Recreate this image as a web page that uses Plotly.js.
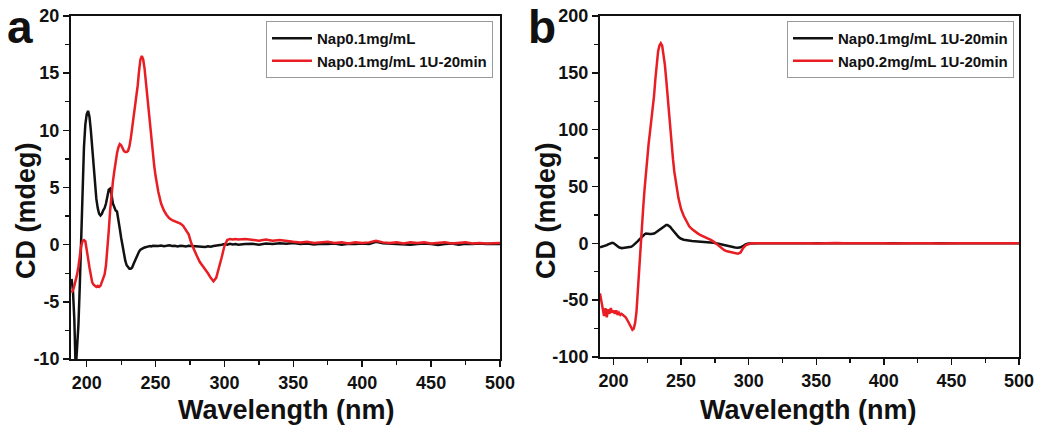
<!DOCTYPE html>
<html>
<head>
<meta charset="utf-8">
<script src="https://cdn.plot.ly/plotly-3.0.1.min.js"></script>
<style>html,body{margin:0;padding:0;background:#fff;}#chart{width:1050px;height:430px;}</style>
</head>
<body>
<div id="chart"></div>
<script>
// ---------- Panel a data ----------
const wlA = [189,190,191,192,193,194,195,196,197,198,199,200,201,202,203,204,205,206,207,208,209,210,211,212,213,214,215,216,217,218,219,220,221,222,223,224,225,226,227,228,229,230,231,232,233,234,235,236,237,238,239,240,241,242,243,244,245,246,247,248,249,250,
  252,254,256,258,260,262,264,266,268,270,272,274,276,278,280,282,284,286,288,290,292,294,296,298,300,302,304,306,308,310,
  315,320,325,330,335,340,345,350,355,360,365,370,375,380,385,390,395,400,405,410,415,420,425,430,435,440,445,450,455,460,465,470,475,480,485,490,495,500];
const cdA_nap01 = [-3.0,-4.0,-6.5,-11.0,-9.0,-7.0,-3.5,0.5,5.0,8.5,10.5,11.4,11.7,11.2,10.0,8.3,6.6,5.2,4.0,3.2,2.7,2.55,2.7,3.0,3.2,3.6,4.2,4.8,4.9,4.4,3.6,3.2,3.0,2.9,2.3,1.4,0.6,-0.2,-0.9,-1.4,-1.8,-2.0,-2.1,-2.1,-2.0,-1.7,-1.4,-1.1,-0.8,-0.6,-0.45,-0.35,-0.3,-0.25,-0.2,-0.18,-0.15,-0.12,-0.15,-0.1,-0.12,-0.1,
  -0.12,-0.08,-0.13,-0.1,-0.05,-0.12,-0.1,-0.15,-0.1,-0.12,-0.15,-0.1,-0.12,-0.15,-0.12,-0.18,-0.15,-0.2,-0.15,-0.18,-0.12,-0.1,-0.05,0.0,0.05,0.0,0.08,0.02,0.05,0.0,
  0.05,0.08,0.0,0.1,0.05,0.12,0.08,0.15,0.05,0.1,0.02,0.08,0.05,0.1,0.0,0.08,0.05,0.1,0.05,0.25,0.12,0.1,0.05,0.08,0.0,0.05,0.1,0.05,-0.02,0.05,0.1,0.0,0.08,0.05,0.1,0.05,0.08,0.05];
const cdA_nap01_1U = [-4.2,-4.0,-3.6,-3.2,-2.6,-1.9,-1.0,-0.1,0.3,0.4,0.3,-0.3,-1.2,-2.0,-2.8,-3.3,-3.5,-3.6,-3.7,-3.6,-3.7,-3.6,-3.3,-2.9,-2.6,-1.8,-0.6,1.2,3.0,4.4,5.5,6.4,7.3,8.0,8.5,8.8,8.7,8.4,8.2,8.1,8.1,8.2,8.6,9.3,10.2,11.1,11.8,12.7,13.9,15.2,16.2,16.5,16.2,15.4,14.2,12.8,11.3,10.0,9.0,7.8,6.9,6.0,
  4.6,3.6,3.0,2.6,2.3,2.15,2.05,1.95,1.85,1.65,1.3,0.9,0.1,-0.5,-1.0,-1.5,-1.8,-2.1,-2.5,-2.9,-3.2,-2.9,-2.1,-1.1,-0.1,0.4,0.5,0.45,0.5,0.45,
  0.5,0.4,0.35,0.45,0.35,0.4,0.3,0.25,0.2,0.25,0.15,0.2,0.25,0.15,0.2,0.1,0.2,0.15,0.2,0.35,0.2,0.15,0.2,0.1,0.2,0.15,0.2,0.1,0.15,0.2,0.1,0.15,0.2,0.1,0.15,0.1,0.15,0.15];

// ---------- Panel b data ----------
const wlB = [190,191,192,193,194,195,196,197,198,199,200,201,202,203,204,205,206,207,208,209,210,211,212,213,214,215,216,217,218,219,220,221,222,223,224,225,226,227,228,229,230,231,232,233,234,235,236,237,238,239,240,241,242,243,244,245,246,247,248,249,250,
  252,254,256,258,260,262,264,266,268,270,272,274,276,278,280,282,284,286,288,290,292,294,296,298,300,302,304,306,308,310,
  315,320,325,330,335,340,345,350,355,360,365,370,375,380,385,390,395,400,405,410,415,420,425,430,435,440,445,450,455,460,465,470,475,480,485,490,495,500];
const cdB_nap01_1U = [-3.5,-3.2,-3.0,-2.6,-2.2,-1.6,-0.9,-0.2,0.3,0.5,0.2,-0.5,-1.5,-2.6,-3.5,-4.0,-4.2,-4.1,-4.0,-3.9,-3.8,-3.6,-3.4,-3.0,-2.4,-1.5,-0.5,0.8,2.0,3.3,4.6,5.8,7.0,8.0,8.6,8.7,8.5,8.3,8.2,8.3,8.6,9.3,10.2,11.2,12.2,13.0,13.8,14.8,15.6,16.1,16.2,15.6,14.4,12.8,11.2,9.7,8.3,7.0,5.8,4.8,4.0,
  3.2,2.6,2.2,2.0,1.8,1.7,1.6,1.5,1.3,1.1,0.9,0.5,0.0,-0.6,-1.2,-1.8,-2.4,-2.9,-3.3,-3.6,-3.8,-3.5,-2.2,-0.8,-0.2,0,0.1,0,0.1,0,
  0,0.1,0,-0.1,0.1,0,0.1,0,0,0.1,-0.1,0,0.1,0,0,0.1,0,-0.1,0,0.1,0,0,0.1,0,-0.1,0,0.1,0,0,0.1,0,-0.1,0,0.1,0,0,0.1,0];
const cdB_nap02_1U = [-44,-52,-60,-64,-57,-65,-58,-62,-57,-61,-59,-62,-59,-63,-61,-63,-62,-63,-64,-65,-67,-69,-71,-74,-76,-75,-70,-60,-40,-18,0,16,32,48,63,76,88,98,108,118,130,145,159,169,174,176,174,167,157,144,129,114,99,86,74,63,54,46,40,35,30,
  24,19,15,12.5,10.5,9,7.5,6.5,5,4,3,1.5,-0.5,-2.5,-4.5,-6,-7,-7.5,-8,-8.5,-9.2,-8,-4,-1.5,-0.5,0,0,0.2,0,0.1,
  0,0.2,-0.1,0.1,0,0.2,0,-0.1,0.1,0,0.2,0,0.1,-0.1,0,0.1,0.2,0,-0.1,0.1,0,0.1,0,0.2,0,-0.1,0.1,0,0.1,0,-0.1,0.1,0,0.1,0,0.1,0,0];

// ---------- Labels / ticks ----------
const seriesNamesA = ['Nap0.1mg/mL', 'Nap0.1mg/mL 1U-20min'];
const seriesNamesB = ['Nap0.1mg/mL 1U-20min', 'Nap0.2mg/mL 1U-20min'];
const xTickVals = [200,250,300,350,400,450,500];
const xTickText = ['200','250','300','350','400','450','500'];
const yTickValsA = [-10,-5,0,5,10,15,20];
const yTickTextA = ['-10','-5','0','5','10','15','20'];
const yTickValsB = [-100,-50,0,50,100,150,200];
const yTickTextB = ['-100','-50','0','50','100','150','200'];
const xTitle = 'Wavelength (nm)';
const yTitle = 'CD (mdeg)';
const panelLabels = ['a','b'];

const FONT = 'Liberation Sans, Arial, Helvetica, sans-serif';
const INK = '#111111';
const RED = 'rgb(232,30,36)';
const W = 1050, H = 430;
const px = v => v / W;
const py = v => 1 - v / H;

function axisBase(extra) {
  return Object.assign({
    showline: true, linecolor: INK, linewidth: 2, mirror: true,
    ticks: 'outside', ticklen: 6, tickwidth: 1.5, tickcolor: INK,
    showgrid: false, zeroline: false, tickmode: 'array',
    tickfont: {family: FONT, size: 18, weight: 'bold', color: INK},
    fixedrange: true
  }, extra);
}

const traces = [
  {x: wlA, y: cdA_nap01, type: 'scatter', mode: 'lines', name: seriesNamesA[0], line: {color: INK, width: 2.5}, xaxis: 'x', yaxis: 'y', legend: 'legend'},
  {x: wlA, y: cdA_nap01_1U, type: 'scatter', mode: 'lines', name: seriesNamesA[1], line: {color: RED, width: 2.5}, xaxis: 'x', yaxis: 'y', legend: 'legend'},
  {x: wlB, y: cdB_nap01_1U, type: 'scatter', mode: 'lines', name: seriesNamesB[0], line: {color: INK, width: 2.5}, xaxis: 'x2', yaxis: 'y2', legend: 'legend2'},
  {x: wlB, y: cdB_nap02_1U, type: 'scatter', mode: 'lines', name: seriesNamesB[1], line: {color: RED, width: 2.5}, xaxis: 'x2', yaxis: 'y2', legend: 'legend2'}
];

const legendBase = {
  xref: 'paper', yref: 'paper', xanchor: 'left', yanchor: 'top',
  bgcolor: 'rgba(255,255,255,1)', bordercolor: '#9a9a9a', borderwidth: 1,
  font: {family: FONT, size: 15, weight: 'bold', color: INK},
  itemwidth: 40, tracegroupgap: 0
};

const layout = {
  width: W, height: H,
  margin: {l: 0, r: 0, t: 0, b: 0},
  paper_bgcolor: '#ffffff', plot_bgcolor: '#ffffff',
  showlegend: true,
  xaxis: axisBase({domain: [px(71), px(500)], range: [188.6, 500], tickvals: xTickVals, ticktext: xTickText, anchor: 'y',
    minor: {tickmode: 'linear', tick0: 225, dtick: 50, ticks: 'outside', ticklen: 4, tickwidth: 1.3, tickcolor: INK}}),
  yaxis: axisBase({domain: [1 - 359/H, 1 - 16/H], range: [-10, 20], tickvals: yTickValsA, ticktext: yTickTextA, anchor: 'x',
    minor: {tickmode: 'linear', tick0: -7.5, dtick: 5, ticks: 'outside', ticklen: 4, tickwidth: 1.3, tickcolor: INK}}),
  xaxis2: axisBase({domain: [px(600), px(1019)], range: [190, 500], tickvals: xTickVals, ticktext: xTickText, anchor: 'y2',
    minor: {tickmode: 'linear', tick0: 225, dtick: 50, ticks: 'outside', ticklen: 4, tickwidth: 1.3, tickcolor: INK}}),
  yaxis2: axisBase({domain: [1 - 357/H, 1 - 16/H], range: [-100, 200], tickvals: yTickValsB, ticktext: yTickTextB, anchor: 'x2',
    minor: {tickmode: 'linear', tick0: -75, dtick: 50, ticks: 'outside', ticklen: 4, tickwidth: 1.3, tickcolor: INK}}),
  legend: Object.assign({}, legendBase, {x: px(266), y: py(21)}),
  legend2: Object.assign({}, legendBase, {x: px(787), y: py(21)}),
  annotations: [
    {text: panelLabels[0], xref: 'paper', yref: 'paper', x: px(5), y: py(55), xanchor: 'left', yanchor: 'bottom', showarrow: false,
      font: {family: FONT, size: 46, weight: 'bold', color: INK}},
    {text: panelLabels[1], xref: 'paper', yref: 'paper', x: px(526), y: py(55), xanchor: 'left', yanchor: 'bottom', showarrow: false,
      font: {family: FONT, size: 46, weight: 'bold', color: INK}},
    {text: yTitle, xref: 'paper', yref: 'paper', x: px(26), y: py(211), xanchor: 'center', yanchor: 'middle', textangle: -90, showarrow: false,
      font: {family: FONT, size: 27, weight: 'bold', color: INK}},
    {text: yTitle, xref: 'paper', yref: 'paper', x: px(546), y: py(211), xanchor: 'center', yanchor: 'middle', textangle: -90, showarrow: false,
      font: {family: FONT, size: 27, weight: 'bold', color: INK}},
    {text: xTitle, xref: 'paper', yref: 'paper', x: px(286), y: py(410), xanchor: 'center', yanchor: 'middle', showarrow: false,
      font: {family: FONT, size: 27, weight: 'bold', color: INK}},
    {text: xTitle, xref: 'paper', yref: 'paper', x: px(808), y: py(410), xanchor: 'center', yanchor: 'middle', showarrow: false,
      font: {family: FONT, size: 27, weight: 'bold', color: INK}}
  ]
};

Plotly.newPlot('chart', traces, layout, {staticPlot: true, displayModeBar: false});
</script>
</body>
</html>
